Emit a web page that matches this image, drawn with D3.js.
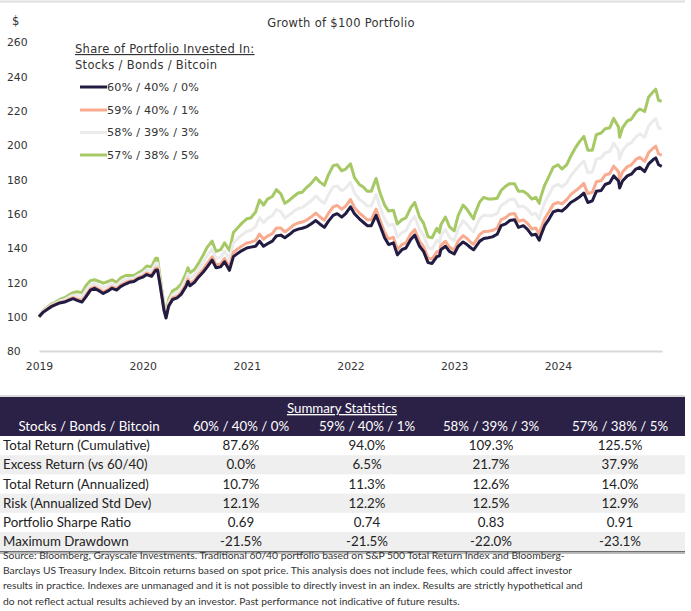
<!DOCTYPE html>
<html>
<head>
<meta charset="utf-8">
<script src="https://cdn.jsdelivr.net/npm/d3@7"></script>
<style>
  html, body { margin: 0; padding: 0; background: #fff; }
  svg { display: block; }
</style>
</head>
<body>
<svg id="chart" width="691" height="611"></svg>
<script>
// ---------------- DATA ----------------
const dates = ["2019-01-01","2019-01-15","2019-02-01","2019-02-15","2019-03-01","2019-03-15","2019-04-01","2019-04-15","2019-05-01","2019-05-15","2019-06-01","2019-06-15","2019-07-01","2019-07-15","2019-08-01","2019-08-15","2019-09-01","2019-09-15","2019-10-01","2019-10-15","2019-11-01","2019-11-15","2019-12-01","2019-12-15",
"2020-01-01","2020-01-15","2020-02-01","2020-02-15","2020-02-22","2020-03-01","2020-03-09","2020-03-16","2020-03-23","2020-04-01","2020-04-15","2020-05-01","2020-05-15","2020-06-01","2020-06-08","2020-06-15","2020-07-01","2020-07-15","2020-08-01","2020-08-15","2020-09-01","2020-09-15","2020-10-01","2020-10-15","2020-11-01","2020-11-15","2020-12-01","2020-12-15",
"2021-01-01","2021-01-15","2021-02-01","2021-02-15","2021-03-01","2021-03-15","2021-04-01","2021-04-15","2021-05-01","2021-05-15","2021-06-01","2021-06-15","2021-07-01","2021-07-15","2021-08-01","2021-08-15","2021-09-01","2021-09-15","2021-10-01","2021-10-15","2021-11-01","2021-11-15","2021-12-01","2021-12-15",
"2022-01-01","2022-01-15","2022-02-01","2022-02-15","2022-03-01","2022-03-15","2022-04-01","2022-04-15","2022-05-01","2022-05-15","2022-06-01","2022-06-15","2022-07-01","2022-07-15","2022-08-01","2022-08-15","2022-09-01","2022-09-15","2022-10-01","2022-10-15","2022-11-01","2022-11-10","2022-11-15","2022-12-01","2022-12-15",
"2023-01-01","2023-01-15","2023-02-01","2023-02-15","2023-03-01","2023-03-10","2023-03-15","2023-04-01","2023-04-15","2023-05-01","2023-05-15","2023-06-01","2023-06-15","2023-07-01","2023-07-15","2023-08-01","2023-08-15","2023-09-01","2023-09-15","2023-10-01","2023-10-15","2023-10-27","2023-11-01","2023-11-15","2023-12-01","2023-12-15",
"2024-01-01","2024-01-15","2024-02-01","2024-02-15","2024-03-01","2024-03-15","2024-04-01","2024-04-15","2024-05-01","2024-05-15","2024-06-01","2024-06-15","2024-07-01","2024-07-15","2024-08-01","2024-08-05","2024-08-15","2024-09-01","2024-09-15","2024-10-01","2024-10-15","2024-11-01","2024-11-15","2024-12-01","2024-12-10","2024-12-20","2024-12-31"];

const s60_40_0 = [100.0,102.5,104.5,106.0,107.0,108.0,108.5,109.5,110.5,109.5,108.5,111.5,115.5,116.5,115.0,113.5,115.0,116.5,115.5,117.5,119.0,120.0,120.5,122.0,
123.0,124.5,123.5,127.0,127.2,119.5,111.0,103.5,99.2,106.0,110.0,111.0,113.0,117.5,120.5,118.0,120.0,123.0,126.0,129.0,133.0,128.5,129.0,132.0,127.0,135.0,137.0,138.5,
140.0,140.5,141.0,144.0,141.0,142.5,144.0,147.0,147.5,146.0,148.0,150.0,151.0,151.5,152.5,154.0,156.0,154.0,152.0,155.5,159.0,160.0,158.0,160.0,
164.0,160.0,157.0,155.0,153.0,153.0,159.0,153.0,146.0,142.0,143.0,136.0,139.0,140.0,145.0,147.5,141.0,138.0,131.5,131.0,135.0,135.5,139.0,141.0,138.0,
136.5,141.0,143.5,142.0,140.0,139.0,140.0,144.0,145.5,146.0,146.5,148.0,153.0,154.0,156.0,156.5,152.0,153.0,151.0,147.5,148.0,144.5,147.0,153.0,157.0,161.0,
162.0,161.5,164.0,166.5,168.0,169.5,172.0,166.5,167.5,173.0,173.5,177.0,178.0,182.0,179.0,175.0,179.0,182.0,183.0,186.0,187.0,184.5,189.0,191.5,192.5,188.5,187.6];

const s59_40_1 = [100.0,102.6,104.7,106.3,107.3,108.3,108.9,110.0,111.1,110.4,109.4,112.6,116.4,117.4,115.9,114.5,115.9,117.4,116.3,118.4,119.9,120.7,121.1,122.6,
123.7,125.4,124.4,128.2,128.4,120.4,111.6,104.0,99.8,106.7,110.9,111.9,114.0,118.8,121.9,119.3,121.3,124.4,127.7,131.0,134.9,130.1,130.7,133.9,129.0,137.4,139.6,141.2,
142.9,143.4,144.4,148.1,145.1,146.9,148.4,151.6,151.6,149.4,151.4,153.4,154.6,155.1,156.4,158.0,160.3,158.2,156.2,160.1,163.9,164.8,162.6,164.4,
168.3,163.6,160.4,158.5,156.4,156.4,162.7,156.2,149.2,145.3,146.2,139.1,142.0,143.0,148.1,150.7,143.9,140.8,134.1,133.6,137.8,137.8,141.5,143.9,140.5,
138.8,144.1,147.2,145.5,143.2,142.1,143.4,147.9,149.6,149.8,150.2,151.6,156.5,157.7,159.7,160.1,155.6,156.4,154.5,151.1,151.7,148.2,150.8,157.0,161.3,165.4,
166.5,165.7,168.2,171.1,173.1,174.9,177.6,171.7,172.5,178.6,179.2,182.5,183.4,187.7,184.4,180.0,184.3,187.4,188.4,191.6,192.8,190.5,195.6,198.2,199.3,194.9,194.0];

const s58_39_3 = [100.0,103.0,105.2,106.9,107.9,109.1,109.9,111.2,112.5,112.4,111.6,115.2,118.6,119.4,118.1,116.9,118.1,119.4,118.1,120.4,121.9,122.3,122.5,124.0,
125.3,127.4,126.6,131.0,131.1,122.4,113.0,105.2,101.2,108.3,112.9,114.1,116.4,121.8,125.1,122.3,124.3,127.6,131.7,135.6,139.3,133.9,134.7,138.3,133.6,143.0,145.6,147.6,
149.7,150.2,152.4,157.7,154.7,157.3,158.8,162.4,161.2,157.4,159.4,161.4,163.0,163.5,165.6,167.4,170.3,168.0,166.0,170.9,175.5,176.2,173.4,174.8,
178.3,172.0,168.4,166.7,164.4,164.4,171.3,163.8,156.8,153.1,153.8,146.3,149.0,150.0,155.5,158.3,150.7,147.4,140.1,139.6,144.4,143.2,147.3,150.7,146.3,
144.2,151.3,155.8,153.7,150.8,149.3,151.4,157.1,159.2,158.8,159.0,160.0,164.7,166.5,168.3,168.5,164.0,164.4,162.7,159.5,160.3,156.8,159.8,166.4,171.3,175.8,
177.1,175.5,178.0,181.9,185.1,187.7,190.8,183.9,184.3,191.8,192.6,195.5,196.2,201.1,197.0,191.8,196.7,200.2,201.2,204.8,206.4,204.5,211.2,214.0,215.3,209.9,209.3];

const s57_38_5 = [100.0,103.3,105.7,107.5,108.5,110.0,111.0,112.5,114.0,114.5,114.0,118.0,121.0,121.5,120.5,119.5,120.5,121.5,120.0,122.5,124.0,124.0,124.0,125.5,
127.0,129.5,129.0,134.0,134.0,124.5,114.5,106.5,102.7,110.0,115.0,116.5,119.0,125.0,128.5,125.5,127.5,131.0,136.0,140.5,144.0,138.0,139.0,143.0,138.5,149.0,152.0,154.5,
157.0,157.5,161.0,168.0,165.0,168.5,170.0,174.0,171.5,166.0,168.0,170.0,172.0,172.5,175.5,177.5,181.0,178.5,176.5,182.5,188.0,188.5,185.0,186.0,
189.0,181.0,177.0,175.5,173.0,173.0,180.5,172.0,165.0,161.5,162.0,154.0,156.5,157.5,163.5,166.5,158.0,154.5,146.5,146.0,151.5,149.0,153.5,158.0,152.5,
150.0,159.0,165.0,162.5,159.0,157.0,160.0,167.0,169.5,168.5,168.5,169.0,173.5,176.0,177.5,177.5,173.0,173.0,171.5,168.5,169.5,166.0,169.5,176.5,182.0,187.0,
188.5,186.0,188.5,193.5,198.0,201.5,205.0,197.0,197.0,206.0,207.0,209.5,210.0,215.5,210.5,204.5,210.0,214.0,215.0,219.0,221.0,219.5,228.0,231.0,232.5,226.0,225.5];

const seriesNames = ["60% / 40% / 0%","59% / 40% / 1%","58% / 39% / 3%","57% / 38% / 5%"];
const seriesColors = ["#221b42","#f8ab8f","#ebebeb","#a6c965"];
const yTicks = [80,100,120,140,160,180,200,220,240,260];
const xTickYears = ["2019","2020","2021","2022","2023","2024"];

const tableColumns = ["Stocks / Bonds / Bitcoin", ...seriesNames];
const rowLabels = ["Total Return (Cumulative)","Excess Return (vs 60/40)","Total Return (Annualized)","Risk (Annualized Std Dev)","Portfolio Sharpe Ratio","Maximum Drawdown"];
const col60 = ["87.6%","0.0%","10.7%","12.1%","0.69","-21.5%"];
const col59 = ["94.0%","6.5%","11.3%","12.2%","0.74","-21.5%"];
const col58 = ["109.3%","21.7%","12.6%","12.5%","0.83","-22.0%"];
const col57 = ["125.5%","37.9%","14.0%","12.9%","0.91","-23.1%"];

const sourceLines = [
 "Source: Bloomberg, Grayscale Investments. Traditional 60/40 portfolio based on S&P 500 Total Return Index and Bloomberg-",
 "Barclays US Treasury Index. Bitcoin returns based on spot price. This analysis does not include fees, which could affect investor",
 "results in practice. Indexes are unmanaged and it is not possible to directly invest in an index. Results are strictly hypothetical and",
 "do not reflect actual results achieved by an investor. Past performance not indicative of future results."
];

// ---------------- DRAW ----------------
const svg = d3.select("#chart");
const chartFont = "'DejaVu Sans', sans-serif";
const tableFont = "Lato, sans-serif";
const parse = d3.timeParse("%Y-%m-%d");
const dts = dates.map(parse);
const allSeries = [s60_40_0, s59_40_1, s58_39_3, s57_38_5];

// top border
svg.append("line").attr("x1",0).attr("x2",685).attr("y1",1.5).attr("y2",1.5)
  .attr("stroke","#dedede").attr("stroke-width",2);

const x = d3.scaleTime().domain([parse("2019-01-01"), parse("2025-01-01")]).range([39, 662]);
const y = d3.scaleLinear().domain([80, 260]).range([351, 42]);

// title and $ label
svg.append("text").attr("x",341).attr("y",27).attr("text-anchor","middle")
  .attr("font-family",chartFont).attr("font-size",11.5).attr("letter-spacing",0.3).attr("fill","#333")
  .text("Growth of $100 Portfolio");
svg.append("text").attr("x",12).attr("y",25)
  .attr("font-family",chartFont).attr("font-size",11.5).attr("fill","#333").text("$");

// y axis
const yAxis = svg.append("g").attr("transform","translate(7,0)")
  .call(d3.axisLeft(y).tickValues(yTicks).tickSize(0).tickFormat(d3.format("d")));
yAxis.select(".domain").remove();
yAxis.selectAll("text").attr("text-anchor","start").attr("x",0).attr("dy","0.35em")
  .attr("font-family",chartFont).attr("font-size",10.8).attr("fill","#333");

// x axis
const xAxis = svg.append("g").attr("transform","translate(0,351)")
  .call(d3.axisBottom(x).tickValues(xTickYears.map(s => parse(s + "-01-01"))).tickSize(0).tickFormat(d3.timeFormat("%Y")));
xAxis.select(".domain").attr("stroke","#d9d9d9").attr("stroke-width",2);
xAxis.selectAll("text").attr("y",11).attr("dy","0.71em")
  .attr("font-family",chartFont).attr("font-size",10.8).attr("fill","#333");

// lines (green first, dark last)
const line = d3.line().x((d,i) => x(dts[i])).y(d => y(d));
[3,2,1,0].forEach(k => {
  svg.append("path").datum(allSeries[k])
    .attr("fill","none").attr("stroke",seriesColors[k]).attr("stroke-width",3)
    .attr("stroke-linejoin","round").attr("d", line);
});

// legend
svg.append("text").attr("x",75).attr("y",53)
  .attr("font-family",chartFont).attr("font-size",11.5).attr("letter-spacing",0.3).attr("fill","#333")
  .style("text-decoration","underline").text("Share of Portfolio Invested In:");
svg.append("text").attr("x",75).attr("y",69)
  .attr("font-family",chartFont).attr("font-size",11.5).attr("letter-spacing",0.3).attr("fill","#333")
  .text("Stocks / Bonds / Bitcoin");
const legY = [87, 110, 132.5, 155];
seriesNames.forEach((n,i) => {
  svg.append("line").attr("x1",80).attr("x2",107).attr("y1",legY[i]).attr("y2",legY[i])
    .attr("stroke",seriesColors[i]).attr("stroke-width",3);
  svg.append("text").attr("x",107).attr("y",legY[i]).attr("dy","0.35em")
    .attr("font-family",chartFont).attr("font-size",11.2).attr("letter-spacing",0.2).attr("fill","#333").text(n);
});

// ---------------- TABLE ----------------
const tTop = 397, headH = 39, rowH = 19.2, tRight = 685;
const colX = [89, 241, 367, 491, 620];
svg.append("line").attr("x1",0).attr("x2",tRight).attr("y1",tTop-1).attr("y2",tTop-1)
  .attr("stroke","#cfcfcf").attr("stroke-width",1.5);
svg.append("rect").attr("x",0).attr("y",tTop).attr("width",tRight).attr("height",headH).attr("fill","#2b2147");
svg.append("text").attr("x",342).attr("y",tTop+16).attr("text-anchor","middle")
  .attr("font-family",tableFont).attr("font-size",13.3).attr("fill","#fff")
  .style("text-decoration","underline").text("Summary Statistics");
tableColumns.forEach((c,i) => {
  svg.append("text").attr("x",colX[i]).attr("y",tTop+34).attr("text-anchor","middle")
    .attr("font-family",tableFont).attr("font-size",13.3).attr("fill","#fff").text(c);
});
const cols = [col60, col59, col58, col57];
rowLabels.forEach((r,j) => {
  const ry = tTop + headH + j*rowH;
  if (j % 2 === 1) {
    svg.append("rect").attr("x",0).attr("y",ry).attr("width",tRight).attr("height",rowH).attr("fill","#efefef");
  }
  svg.append("text").attr("x",3).attr("y",ry+rowH/2).attr("dy","0.35em")
    .attr("font-family",tableFont).attr("font-size",13.3).attr("fill","#222").text(r);
  cols.forEach((c,i) => {
    svg.append("text").attr("x",colX[i+1]).attr("y",ry+rowH/2).attr("dy","0.35em").attr("text-anchor","middle")
      .attr("font-family",tableFont).attr("font-size",13.3).attr("fill","#222").text(c[j]);
  });
});
const tBottom = tTop + headH + rowLabels.length*rowH;
svg.append("line").attr("x1",0).attr("x2",tRight).attr("y1",tBottom+0.5).attr("y2",tBottom+0.5)
  .attr("stroke","#6e6e6e").attr("stroke-width",1.5);
svg.append("line").attr("x1",0).attr("x2",tRight).attr("y1",tBottom+2.2).attr("y2",tBottom+2.2)
  .attr("stroke","#b5b5b5").attr("stroke-width",1);

// source text
sourceLines.forEach((s,i) => {
  svg.append("text").attr("x",3).attr("y",559 + i*15.2)
    .attr("font-family",tableFont).attr("font-size",10.3).attr("fill","#333").text(s);
});
</script>
</body>
</html>
